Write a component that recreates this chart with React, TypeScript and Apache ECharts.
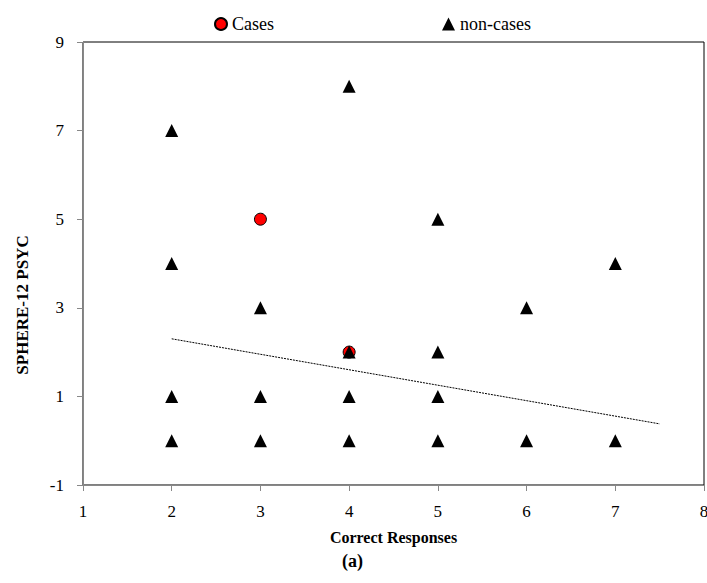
import React, { useEffect, useRef } from "react";
import * as echarts from "echarts";

const casesData: [number, number][] = [
  [3, 5],
  [4, 2],
];
const nonCasesData: [number, number][] = [
  [2, 7], [2, 4], [2, 1], [2, 0],
  [3, 3], [3, 1], [3, 0],
  [4, 8], [4, 2], [4, 1], [4, 0],
  [5, 5], [5, 2], [5, 1], [5, 0],
  [6, 3], [6, 0],
  [7, 4], [7, 0],
];
const trendLine: [number, number][] = [
  [2, 2.3],
  [7.5, 0.38],
];
const xTicks = { min: 1, max: 8, interval: 1 };
const yTicks = { min: -1, max: 9, interval: 2 };

const FONT = "'Liberation Serif', serif";

export default function App() {
  const ref = useRef<HTMLDivElement>(null);
  useEffect(() => {
    if (!ref.current) return;
    const chart = echarts.init(ref.current, null, { renderer: "svg" });
    chart.setOption({
      animation: false,
      textStyle: { fontFamily: FONT },
      grid: {
        left: 83, right: 3, top: 42, bottom: 98,
        containLabel: false, outerBoundsMode: "none",
        show: true, borderColor: "#000", borderWidth: 1,
      },
      legend: [
        {
          data: [{ name: "Cases", icon: "circle" }],
          left: 209,
          top: 10,
          itemWidth: 12,
          itemHeight: 12,
          textStyle: { fontFamily: FONT, fontSize: 18, color: "#000" },
        },
        {
          data: [{ name: "non-cases", icon: "triangle" }],
          left: 437,
          top: 10,
          itemWidth: 13,
          itemHeight: 13,
          textStyle: { fontFamily: FONT, fontSize: 18, color: "#000" },
        },
      ],
      xAxis: {
        type: "value",
        min: xTicks.min,
        max: xTicks.max,
        interval: xTicks.interval,
        name: "Correct Responses",
        nameLocation: "middle",
        nameGap: 44,
        nameTextStyle: { fontFamily: FONT, fontSize: 16, fontWeight: "bold", color: "#000" },
        axisLine: { show: true, onZero: false, lineStyle: { color: "#888", width: 1 } },
        axisTick: { show: true, length: 6, lineStyle: { color: "#888" } },
        axisLabel: { margin: 18, fontFamily: FONT, fontSize: 17, color: "#000" },
        splitLine: { show: false },
      },
      yAxis: {
        type: "value",
        min: yTicks.min,
        max: yTicks.max,
        interval: yTicks.interval,
        axisLine: { show: true, onZero: false, lineStyle: { color: "#888", width: 1 } },
        axisTick: { show: true, length: 6, lineStyle: { color: "#888" } },
        axisLabel: { margin: 19, align: "right", fontFamily: FONT, fontSize: 17, color: "#000" },
        splitLine: { show: false },
      },
      series: [
        {
          name: "trend",
          type: "line",
          data: trendLine,
          symbol: "none",
          lineStyle: { color: "#000", width: 1, type: [2, 1] },
          silent: true,
          z: 1,
        },
        {
          name: "Cases",
          type: "scatter",
          data: casesData,
          symbol: "circle",
          symbolSize: 12,
          itemStyle: { color: "#ff0000", borderColor: "#000", borderWidth: 1, opacity: 1 },
          z: 2,
        },
        {
          name: "non-cases",
          type: "scatter",
          data: nonCasesData,
          symbol: "triangle",
          symbolSize: 13,
          itemStyle: { color: "#000", opacity: 1 },
          z: 3,
        },
      ],
      graphic: [
        {
          type: "text",
          x: 22,
          y: 305,
          rotation: Math.PI / 2,
          style: {
            text: "SPHERE-12 PSYC",
            font: `bold 17px 'Liberation Serif', serif`,
            fill: "#000",
            align: "center",
            verticalAlign: "middle",
          },
        },
        {
          type: "text",
          left: 342,
          top: 552,
          style: { text: "(a)", font: `bold 18px 'Liberation Serif', serif`, fill: "#000" },
        },
      ],
    });
    return () => chart.dispose();
  }, []);
  return <div ref={ref} style={{ width: 707, height: 583, position: "absolute", left: 0, top: 0 }} />;
}
